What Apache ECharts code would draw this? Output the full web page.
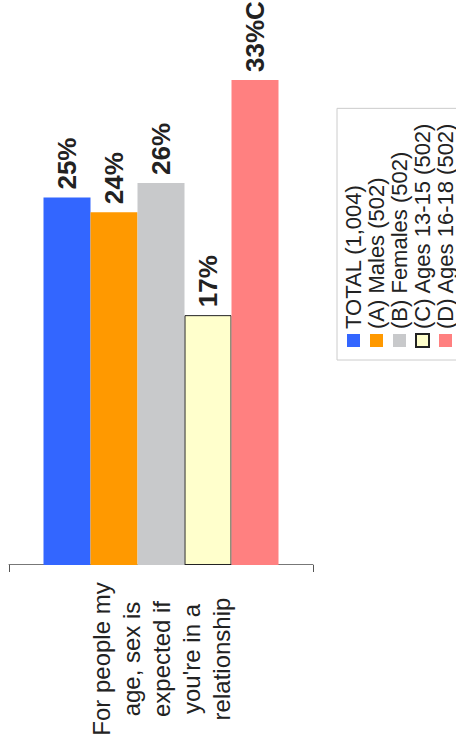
<!DOCTYPE html>
<html>
<head>
<meta charset="utf-8">
<script src="https://cdn.jsdelivr.net/npm/echarts@6/dist/echarts.min.js"></script>
<style>
html,body{margin:0;padding:0;background:#fff;overflow:hidden;width:456px;height:751px;}
#chart{position:absolute;left:0;top:0;width:751px;height:520px;transform-origin:0 0;transform:translate(0,751px) rotate(-90deg);}
</style>
</head>
<body>
<div id="chart"></div>
<script>
const categories = ["For people my\nage, sex is\nexpected if\nyou're in a\nrelationship"];
const seriesNames = ["TOTAL (1,004)", "(A) Males (502)", "(B) Females (502)", "(C) Ages 13-15 (502)", "(D) Ages 16-18 (502)"];
const values = [25, 24, 26, 17, 33];
const sigLetters = ["", "", "", "", "C"];
const colors = ["#3366FF", "#FF9900", "#C8C9CB", "#FFFFCC", "#FF8080"];

const font = "'Liberation Sans', Arial, sans-serif";
const chart = echarts.init(document.getElementById('chart'), null, {renderer: 'svg'});
const series = seriesNames.map((name, i) => ({
  name: name,
  type: 'bar',
  data: [values[i]],
  barWidth: 47,
  barGap: '0%',
  itemStyle: {
    color: colors[i],
    borderColor: i === 3 ? '#222' : colors[i],
    borderWidth: i === 3 ? 1 : 0
  },
  label: {
    show: true,
    position: 'right',
    distance: 8,
    formatter: () => values[i] + '%' + sigLetters[i],
    fontFamily: font,
    fontSize: 26,
    fontWeight: 'bold',
    color: '#222'
  },
  animation: false
}));
chart.setOption({
  animation: false,
  backgroundColor: '#fff',
  grid: {left: 186, right: 80, top: 9, bottom: 207, containLabel: false},
  xAxis: {type: 'value', min: 0, max: 33, show: false},
  yAxis: {
    type: 'category',
    data: categories,
    inverse: true,
    axisLine: {lineStyle: {color: '#777', width: 1}},
    axisTick: {show: true, length: 7, lineStyle: {color: '#555'}},
    axisLabel: {
      align: 'center',
      margin: 94,
      fontFamily: font,
      fontSize: 24,
      lineHeight: 30,
      color: '#222'
    }
  },
  legend: {
    orient: 'vertical',
    left: 391,
    top: 337,
    padding: [5, 14, 12, 12],
    itemGap: 0,
    itemWidth: 13,
    itemHeight: 13,
    borderColor: '#ccc',
    borderWidth: 1,
    icon: 'rect',
    textStyle: {fontFamily: font, fontSize: 22, lineHeight: 23, color: '#222'},
    data: seriesNames
  },
  series: series
});
</script>
</body>
</html>
